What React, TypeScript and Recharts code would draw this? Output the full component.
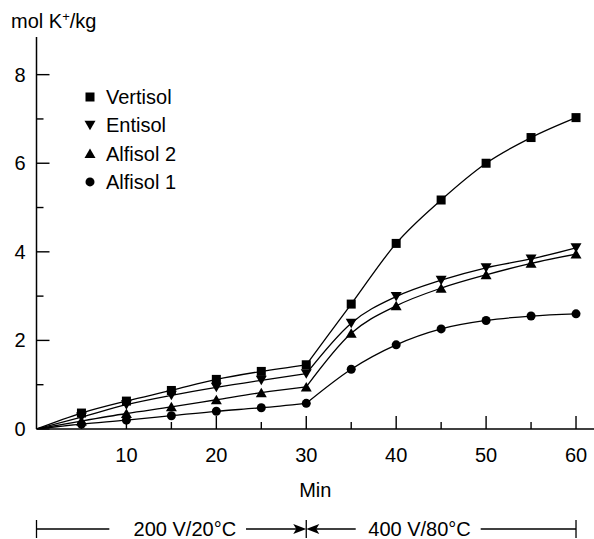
import { LineChart, Line, XAxis, YAxis, Legend } from 'recharts'

const minutes = [0, 5, 10, 15, 20, 25, 30, 35, 40, 45, 50, 55, 60]
const vertisol = [0, 0.36, 0.63, 0.87, 1.12, 1.3, 1.45, 2.82, 4.19, 5.17, 6.0, 6.58, 7.03]
const entisol = [0, 0.27, 0.55, 0.76, 0.94, 1.1, 1.25, 2.39, 2.99, 3.36, 3.64, 3.84, 4.09]
const alfisol2 = [0, 0.18, 0.35, 0.5, 0.66, 0.82, 0.95, 2.16, 2.78, 3.18, 3.48, 3.74, 3.95]
const alfisol1 = [0, 0.11, 0.2, 0.3, 0.4, 0.48, 0.58, 1.35, 1.9, 2.26, 2.45, 2.55, 2.6]

const xTicks = [5, 10, 15, 20, 25, 30, 35, 40, 45, 50, 55, 60]
const yTicks = [0, 1, 2, 3, 4, 5, 6, 7, 8]
const X_MAX = 62
const Y_MAX = 8.85
const SWITCH_AT = 30

const series = [
  { key: 'vertisol', name: 'Vertisol', shape: 'square', values: vertisol },
  { key: 'entisol', name: 'Entisol', shape: 'down', values: entisol },
  { key: 'alfisol2', name: 'Alfisol 2', shape: 'up', values: alfisol2 },
  { key: 'alfisol1', name: 'Alfisol 1', shape: 'circle', values: alfisol1 },
]

// split each series at 30 min so the voltage step gives a corner
const data = minutes.map((t, i) => {
  const row: Record<string, number | null> = { t }
  series.forEach((s) => {
    row[s.key + 'A'] = t <= SWITCH_AT ? s.values[i] : null
    row[s.key + 'B'] = t >= SWITCH_AT ? s.values[i] : null
  })
  return row
})

const FONT = '"Liberation Sans", Arial, Helvetica, sans-serif'
const FS = 20

function Marker({ shape, x, y }: { shape: string; x: number; y: number }) {
  if (shape === 'square') return <rect x={x - 4.5} y={y - 4.5} width={9} height={9} fill="#000" />
  if (shape === 'down')
    return <polygon points={`${x - 5.5},${y - 4.5} ${x + 5.5},${y - 4.5} ${x},${y + 5}`} fill="#000" />
  if (shape === 'up')
    return <polygon points={`${x - 5.5},${y + 4.5} ${x + 5.5},${y + 4.5} ${x},${y - 5}`} fill="#000" />
  return <circle cx={x} cy={y} r={4.5} fill="#000" />
}

const makeDot = (shape: string, skip: number) => (props: any) => {
  const { cx, cy, payload, index } = props
  if (payload.t === skip || cx == null || cy == null) return <g key={`s-${index}`} />
  return (
    <g key={`d-${index}`}>
      <Marker shape={shape} x={cx} y={cy} />
    </g>
  )
}

function XTick(props: any) {
  const { x, y, payload } = props
  const major = payload.value % 10 === 0
  return (
    <g>
      <line x1={x} x2={x} y1={y} y2={y - (major ? 13 : 7)} stroke="#000" strokeWidth={1.4} />
      {major && (
        <text x={x} y={y + 33} textAnchor="middle" fontFamily={FONT} fontSize={FS} fill="#000">
          {payload.value}
        </text>
      )}
    </g>
  )
}

function YTick(props: any) {
  const { x, y, payload } = props
  const major = payload.value % 2 === 0
  return (
    <g>
      <line x1={x} x2={x + (major ? 13 : 7)} y1={y} y2={y} stroke="#000" strokeWidth={1.4} />
      {major && (
        <text x={x - 11} y={y + 7} textAnchor="end" fontFamily={FONT} fontSize={FS} fill="#000">
          {payload.value}
        </text>
      )}
    </g>
  )
}

function YTitle(props: any) {
  const { viewBox } = props
  return (
    <text x={11} y={viewBox.y - 9} fontFamily={FONT} fontSize={FS} fill="#000">
      mol K
      <tspan fontSize={13} dy={-7}>+</tspan>
      <tspan fontSize={FS} dy={7}>/kg</tspan>
    </text>
  )
}

function BottomNote(props: any) {
  const { x, y, width } = props.viewBox
  const px = (v: number) => x + (v / X_MAX) * width
  const row = y + 100
  const mid = px(SWITCH_AT)
  const txt = { fontFamily: FONT, fontSize: FS, fill: '#000', textAnchor: 'middle' as const }
  return (
    <g stroke="#000" strokeWidth={1.3}>
      <text x={x + width / 2} y={y + 68} {...txt} stroke="none">Min</text>
      <line x1={px(0)} x2={px(0)} y1={row - 9} y2={row + 9} />
      <line x1={px(0)} x2={px(8.1)} y1={row} y2={row} />
      <text x={px(16.5)} y={row + 7} {...txt} stroke="none">200 V/20°C</text>
      <line x1={px(23.3)} x2={mid - 4} y1={row} y2={row} />
      <polygon points={`${mid - 13},${row - 5} ${mid},${row} ${mid - 13},${row + 5} ${mid - 10},${row}`} fill="#000" stroke="none" />
      <line x1={mid} x2={mid} y1={row - 9} y2={row + 9} />
      <polygon points={`${mid + 13},${row - 5} ${mid},${row} ${mid + 13},${row + 5} ${mid + 10},${row}`} fill="#000" stroke="none" />
      <line x1={mid + 4} x2={px(35.5)} y1={row} y2={row} />
      <text x={px(42.6)} y={row + 7} {...txt} stroke="none">400 V/80°C</text>
      <line x1={px(49.4)} x2={px(60)} y1={row} y2={row} />
      <line x1={px(60)} x2={px(60)} y1={row - 9} y2={row + 9} />
    </g>
  )
}

function LegendBox() {
  return (
    <svg width={130} height={115} style={{ display: 'block' }}>
      {series.map((s, i) => {
        const cy = 12 + i * 28.3
        return (
          <g key={s.key}>
            <Marker shape={s.shape} x={10} y={cy} />
            <text x={26} y={cy + 7} fontFamily={FONT} fontSize={FS} fill="#000">
              {s.name}
            </text>
          </g>
        )
      })}
    </svg>
  )
}

export default function App() {
  return (
    <div style={{ position: 'absolute', left: 0, top: 0, background: '#fff' }}>
      <LineChart width={594} height={539} data={data} margin={{ top: 37, right: 0, bottom: 0, left: 0 }}>
        <XAxis
          dataKey="t"
          type="number"
          domain={[0, X_MAX]}
          ticks={xTicks}
          interval={0}
          height={110}
          tickSize={0}
          tickMargin={0}
          tickLine={false}
          tick={<XTick />}
          axisLine={{ stroke: '#000', strokeWidth: 1.5 }}
          label={<BottomNote />}
        />
        <YAxis
          type="number"
          domain={[0, Y_MAX]}
          ticks={yTicks}
          interval={0}
          width={36.5}
          tickSize={0}
          tickMargin={0}
          tickLine={false}
          tick={<YTick />}
          axisLine={{ stroke: '#000', strokeWidth: 1.5 }}
          allowDataOverflow
          label={<YTitle />}
        />
        <Legend
          layout="vertical"
          verticalAlign="middle"
          align="center"
          wrapperStyle={{ left: 80, top: 85, width: 130 }}
          content={() => <LegendBox />}
        />
        {series.map((s) => (
          <Line
            key={s.key + 'A'}
            dataKey={s.key + 'A'}
            name={s.name}
            type="monotone"
            stroke="#000"
            strokeWidth={1.3}
            dot={makeDot(s.shape, 0)}
            activeDot={false}
            legendType="none"
            isAnimationActive={false}
          />
        ))}
        {series.map((s) => (
          <Line
            key={s.key + 'B'}
            dataKey={s.key + 'B'}
            name={s.name + ' B'}
            type="monotone"
            stroke="#000"
            strokeWidth={1.3}
            dot={makeDot(s.shape, SWITCH_AT)}
            activeDot={false}
            legendType="none"
            isAnimationActive={false}
          />
        ))}
      </LineChart>
    </div>
  )
}
